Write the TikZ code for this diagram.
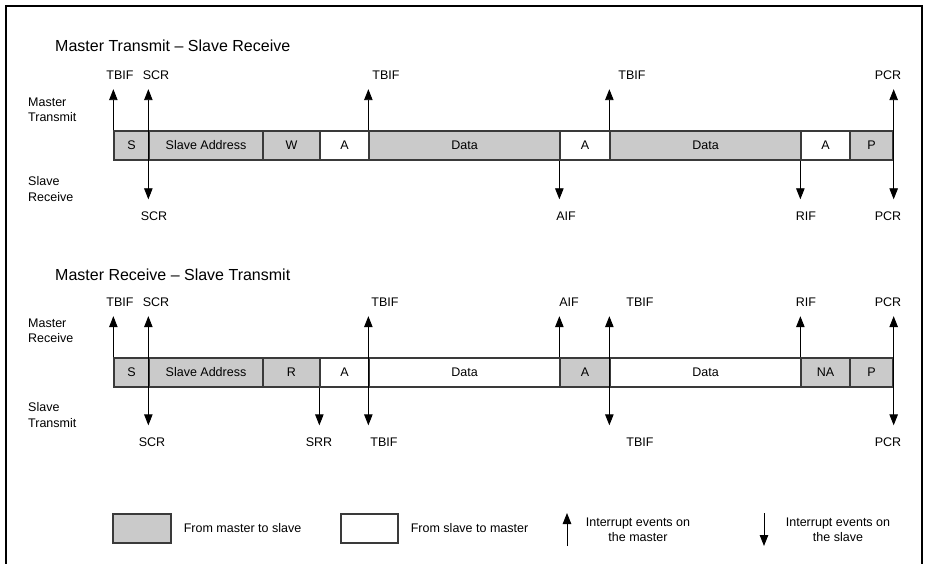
\documentclass[tikz,border=0pt]{standalone}
\usepackage{fontspec}
\setmainfont{Liberation Sans}
\usetikzlibrary{positioning,arrows.meta}
\definecolor{Shade}{HTML}{CACACA}
\definecolor{Edge}{HTML}{3A3A3A}
\definecolor{Ink}{HTML}{000000}

\tikzset{
  field/.style={draw=Edge,line width=1.3pt,inner sep=0pt,minimum height=29pt,font=\fontsize{12.5}{14}\selectfont},
  evt/.style={inner sep=0pt,text height=9pt,text depth=0pt,font=\fontsize{12.5}{14}\selectfont},
  side/.style={anchor=west,align=left,inner sep=0pt,font=\fontsize{12.5}{15.5}\selectfont},
  heading/.style={anchor=west,inner sep=0pt,font=\fontsize{16}{18}\selectfont},
  keytext/.style={inner sep=0pt,align=center,font=\fontsize{12.5}{15}\selectfont},
  irqup/.style={line width=0.9pt,shorten >=9.5pt,-{Triangle[length=11pt,width=8.5pt]}},
  irqdown/.style={line width=0.9pt,shorten >=12pt,-{Triangle[length=11pt,width=8.5pt]}},
  irqboth/.style={line width=0.9pt,shorten <=9.5pt,shorten >=12pt,{Triangle[length=11pt,width=8.5pt]}-{Triangle[length=11pt,width=8.5pt]}},
}

\begin{document}
\begin{tikzpicture}[x=1pt,y=-1pt]
    \useasboundingbox (0,0) rectangle (929,564);
    \draw[line width=2pt,Ink] (6,564) -- (6,6) -- (922,6) -- (922,564);

    % master transmit, slave receive
    \node[heading] (r1head) at (55,46) {Master Transmit -- Slave Receive};
    \node[side] (r1mst) at (28,110) {Master\\Transmit};
    \node[side] (r1slv) at (28,189) {Slave\\Receive};
    \foreach \i/\xa/\xb/\lab/\col [evaluate=\xb as \w using \xb-\xa] in
      {1/114/149/S/Shade, 2/149/263/Slave Address/Shade, 3/263/320/W/Shade,
       4/320/369/A/white, 5/369/560/Data/Shade, 6/560/610/A/white,
       7/610/801/Data/Shade, 8/801/850/A/white, 9/850/893/P/Shade}{
      \node[field,fill=\col,minimum width=\w pt] (r1b\i) at ({(\xa+\xb)/2},145.5) {\lab};
    }
    \foreach \n/\x/\t in {1/120/TBIF, 2/156/SCR, 3/386/TBIF, 4/632/TBIF, 5/888/PCR}
      \node[evt] (r1t\n) at (\x,75) {\t};
    \foreach \n/\x/\t in {1/154/SCR, 2/566/AIF, 3/806/RIF, 4/888/PCR}
      \node[evt] (r1d\n) at (\x,216) {\t};
    \draw[irqup] (r1b1.north west) -- (r1b1.north west |- r1t1.south);
    \draw[irqboth] (r1b2.north west |- r1t2.south) -- (r1b2.north west |- r1d1.north);
    \draw[irqup] (r1b5.north west) -- (r1b5.north west |- r1t3.south);
    \draw[irqdown] (r1b6.south west) -- (r1b6.south west |- r1d2.north);
    \draw[irqup] (r1b7.north west) -- (r1b7.north west |- r1t4.south);
    \draw[irqdown] (r1b8.south west) -- (r1b8.south west |- r1d3.north);
    \draw[irqboth] (r1b9.north east |- r1t5.south) -- (r1b9.north east |- r1d4.north);

    % master receive, slave transmit
    \begin{scope}[shift={(0,227)}]
    \node[heading] (r2head) at (55,48) {Master Receive -- Slave Transmit};
    \node[side] (r2mst) at (28,104) {Master\\Receive};
    \node[side] (r2slv) at (28,188) {Slave\\Transmit};
    \foreach \i/\xa/\xb/\lab/\col [evaluate=\xb as \w using \xb-\xa] in
      {1/114/149/S/Shade, 2/149/263/Slave Address/Shade, 3/263/320/R/Shade,
       4/320/369/A/white, 5/369/560/Data/white, 6/560/610/A/Shade,
       7/610/801/Data/white, 8/801/850/NA/Shade, 9/850/893/P/Shade}{
      \node[field,fill=\col,minimum width=\w pt] (r2b\i) at ({(\xa+\xb)/2},145.5) {\lab};
    }
    \foreach \n/\x/\t in {1/120/TBIF, 2/156/SCR, 3/385/TBIF, 4/569/AIF, 5/640/TBIF, 6/806/RIF, 7/888/PCR}
      \node[evt] (r2t\n) at (\x,75) {\t};
    \foreach \n/\x/\t in {1/152/SCR, 2/319/SRR, 3/384/TBIF, 4/640/TBIF, 5/888/PCR}
      \node[evt] (r2d\n) at (\x,215) {\t};
    \draw[irqup] (r2b1.north west) -- (r2b1.north west |- r2t1.south);
    \draw[irqboth] (r2b2.north west |- r2t2.south) -- (r2b2.north west |- r2d1.north);
    \draw[irqdown] (r2b4.south west) -- (r2b4.south west |- r2d2.north);
    \draw[irqboth] (r2b5.north west |- r2t3.south) -- (r2b5.north west |- r2d3.north);
    \draw[irqup] (r2b6.north west) -- (r2b6.north west |- r2t4.south);
    \draw[irqboth] (r2b7.north west |- r2t5.south) -- (r2b7.north west |- r2d4.north);
    \draw[irqup] (r2b8.north west) -- (r2b8.north west |- r2t6.south);
    \draw[irqboth] (r2b9.north east |- r2t7.south) -- (r2b9.north east |- r2d5.north);
    \end{scope}

    % key
    \node[field,fill=Shade,minimum width=58pt] (keym) at (142,528.5) {};
    \node[keytext,right=12pt of keym] (keymt) {From master to slave};
    \node[field,fill=white,minimum width=57pt] (keys) at (369.5,528.5) {};
    \node[keytext,right=12pt of keys] (keyst) {From slave to master};
    \coordinate (keyup) at (567,546);
    \coordinate (keyupend) at (567,513);
    \draw[line width=0.9pt,-{Triangle[length=11pt,width=8.5pt]}] (keyup) -- (keyupend);
    \node[keytext] (keyupt) at (638,529.5) {Interrupt events on\\the master};
    \coordinate (keydn) at (764,513);
    \coordinate (keydnend) at (764,546);
    \draw[line width=0.9pt,-{Triangle[length=11pt,width=8.5pt]}] (keydn) -- (keydnend);
    \node[keytext] (keydnt) at (838,529.5) {Interrupt events on\\the slave};
  \end{tikzpicture}
\end{document}
